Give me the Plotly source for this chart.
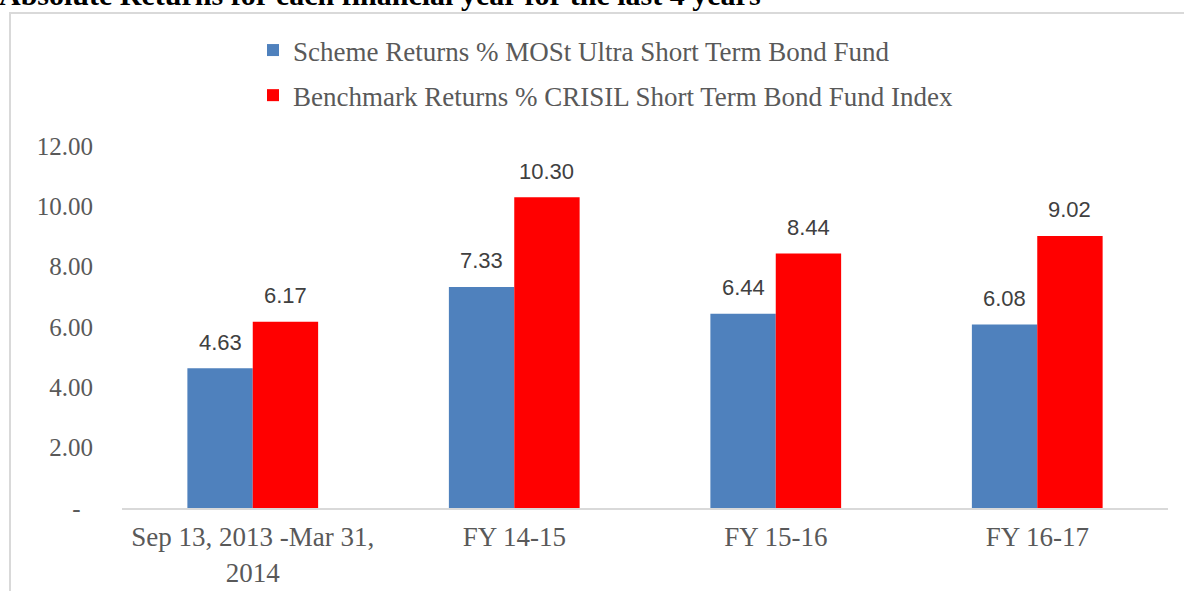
import plotly.graph_objects as go

categories = ["Sep 13, 2013 -Mar 31,<br>2014", "FY 14-15", "FY 15-16", "FY 16-17"]
scheme_returns = [4.63, 7.33, 6.44, 6.08]
benchmark_returns = [6.17, 10.30, 8.44, 9.02]
scheme_name = "Scheme Returns % MOSt Ultra Short Term Bond Fund"
benchmark_name = "Benchmark Returns % CRISIL Short Term Bond Fund Index"
tick_vals = [0, 2, 4, 6, 8, 10, 12]
tick_text = ["-\u00a0\u00a0", "2.00", "4.00", "6.00", "8.00", "10.00", "12.00"]
title_text = "Absolute Returns for each financial year for the last 4 years"

W, H = 1184, 591
L, R, T, B = 122, 16, 146, 83
pw, ph = W - L - R, H - T - B

def px_x(x):
    return (x - L) / pw

def px_y(y):
    return (H - B - y) / ph

serif = "Liberation Serif, Times New Roman, serif"
label_font = dict(family="Liberation Sans, Arial, sans-serif", size=22, color="#404040")

fig = go.Figure()
fig.add_trace(go.Bar(
    x=categories, y=scheme_returns, name=scheme_name,
    marker=dict(color="#4F81BD", line=dict(width=0)),
    legendgroup="a",
))
fig.add_trace(go.Bar(
    x=categories, y=benchmark_returns, name=benchmark_name,
    marker=dict(color="#FF0000", line=dict(width=0)),
    legendgroup="b",
))

# data labels above each bar
bar_half = pw / len(categories) * 0.5 / 2 / 2  # half of each bar's slot within the group
for series, sign in ((scheme_returns, -1), (benchmark_returns, 1)):
    for cat, v in zip(categories, series):
        fig.add_annotation(
            x=cat, y=v, xref="x", yref="y", text=f"{v:.2f}",
            showarrow=False, xanchor="center", yanchor="middle",
            xshift=sign * bar_half, yshift=26, font=label_font,
        )

fig.update_layout(
    width=W, height=H,
    margin=dict(l=L, r=R, t=T, b=B, autoexpand=False),
    paper_bgcolor="white", plot_bgcolor="white",
    barmode="group", bargap=0.5, bargroupgap=0,
    showlegend=True,
    legend=dict(
        x=px_x(253), y=px_y(26), xanchor="left", yanchor="top",
        orientation="v", tracegroupgap=7,
        font=dict(family=serif, size=27, color="#595959"),
        bgcolor="rgba(0,0,0,0)",
    ),
    xaxis=dict(
        showgrid=False, showline=True, linecolor="#d9d9d9", linewidth=2,
        ticks="", tickfont=dict(family=serif, size=27, color="#595959"),
        ticklabelstandoff=4,
    ),
    yaxis=dict(
        range=[0, 12], tickvals=tick_vals, ticktext=tick_text,
        showgrid=False, zeroline=False, showline=False, ticks="",
        tickfont=dict(family=serif, size=25, color="#595959"),
        ticklabelstandoff=28,
    ),
)

# outer chart-area frame (left and top edges visible)
fig.add_shape(type="line", xref="paper", yref="paper",
              x0=px_x(10), x1=px_x(10), y0=px_y(13), y1=px_y(600),
              line=dict(color="#d9d9d9", width=2))
fig.add_shape(type="line", xref="paper", yref="paper",
              x0=px_x(9), x1=px_x(1190), y0=px_y(13), y1=px_y(13),
              line=dict(color="#d9d9d9", width=2))

fig.add_annotation(
    text=f"<b>{title_text}</b>", xref="paper", yref="paper",
    x=px_x(-3), y=px_y(-6), xanchor="left", yanchor="middle",
    showarrow=False,
    font=dict(family=serif, size=30, color="black"),
)

fig.write_html("out.html", config={"displayModeBar": False},
               post_script="document.body.style.margin='0';")
